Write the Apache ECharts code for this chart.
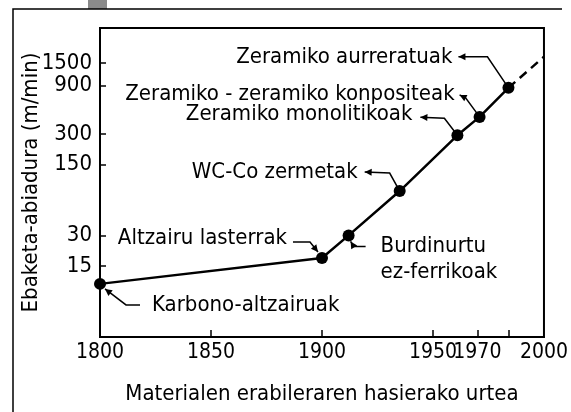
<!DOCTYPE html>
<html>
<head>
<meta charset="utf-8">
<script src="https://cdn.jsdelivr.net/npm/echarts@6/dist/echarts.min.js"></script>
<style>
  html, body { margin: 0; padding: 0; background: #fff; }
  #chart { width: 571px; height: 412px; }
</style>
</head>
<body>
<div id="chart"></div>
<script>
// data
const years = [1800, 1900, 1912, 1935, 1961, 1971, 1984];
const speeds = [10, 18, 30, 82, 290, 440, 850];
const extYears = [1984, 2000];
const extSpeeds = [850, 1720];
const names = [
  'Karbono-altzairuak',
  'Altzairu lasterrak',
  'Burdinurtu\nez-ferrikoak',
  'WC-Co zermetak',
  'Zeramiko monolitikoak',
  'Zeramiko - zeramiko konpositeak',
  'Zeramiko aurreratuak'
];
const yTicks = [15, 30, 150, 300, 900, 1500];
const xLabels = [1800, 1850, 1900, 1950, 1970, 2000];
const xTicks = [1850, 1900, 1950, 1970, 1984];

const FONT = '"Liberation Sans Narrow", "DejaVu Sans Condensed", sans-serif';
const FS = 22;

// label placement relative to each point: [dx, dy, align], leader path offsets (last = arrow tip)
const notes = [
  { text: [52, 21, 'left'], path: [[40, 21], [26, 21], [5, 5]] },
  { text: [-35, -20, 'right'], path: [[-29, -16], [-12, -16], [-4, -6]] },
  { text: [32, 24, 'left'], path: [[17, 11], [5, 11], [2, 6]] },
  { text: [-42, -19, 'right'], path: [[0, 0], [-10, -18], [-35, -19]] },
  { text: [-45, -21, 'right'], path: [[0, 0], [-13, -17], [-37, -18]] },
  { text: [-25, -23, 'right'], path: [[0, 0], [-14, -19], [-20, -22]] },
  { text: [-56, -31, 'right'], path: [[0, 0], [-21, -31], [-50, -31]] }
];

const chart = echarts.init(document.getElementById('chart'));

chart.setOption({
  animation: false,
  textStyle: { fontFamily: FONT },
  grid: {
    left: 100, right: 20, top: 28, bottom: 75,
    show: true, borderColor: '#000', borderWidth: 2
  },
  xAxis: {
    type: 'value',
    min: 1800, max: 2000,
    name: 'Materialen erabileraren hasierako urtea',
    nameLocation: 'middle',
    nameGap: 46,
    nameMoveOverlap: false,
    nameTextStyle: { fontSize: FS, color: '#000' },
    axisLine: { lineStyle: { color: '#000', width: 2 } },
    axisTick: { inside: true, length: 7, lineStyle: { color: '#000', width: 1.5 }, customValues: xTicks },
    axisLabel: { fontSize: 21, color: '#000', margin: 5, customValues: xLabels, formatter: v => String(v) },
    splitLine: { show: false }
  },
  yAxis: {
    type: 'log',
    min: 3, max: 3300,
    name: 'Ebaketa-abiadura (m/min)',
    nameLocation: 'middle',
    nameGap: 58,
    nameMoveOverlap: false,
    nameTextStyle: { fontSize: FS, color: '#000' },
    axisLine: { lineStyle: { color: '#000', width: 2 } },
    axisTick: { inside: true, length: 6, lineStyle: { color: '#000', width: 1.5 }, customValues: yTicks },
    axisLabel: { fontSize: FS, color: '#000', margin: 8, customValues: yTicks, formatter: v => String(v) },
    splitLine: { show: false }
  },
  series: [
    {
      type: 'line',
      data: years.map((y, i) => [y, speeds[i]]),
      symbol: 'circle',
      symbolSize: 12,
      itemStyle: { color: '#000' },
      lineStyle: { color: '#000', width: 2.5 },
      z: 3
    },
    {
      type: 'line',
      data: extYears.map((y, i) => [y, extSpeeds[i]]),
      showSymbol: false,
      lineStyle: { color: '#000', width: 2.5, type: [9, 6] },
      z: 2
    }
  ]
});

// annotations anchored to the plotted points
const gfx = [
  { type: 'rect', shape: { x: 88, y: 0, width: 19, height: 9 }, style: { fill: '#8a8a8a' } },
  { type: 'polyline', shape: { points: [[13, 412], [13, 9], [562, 9]] }, style: { stroke: '#000', lineWidth: 1.5, fill: null } }
];

years.forEach((yr, i) => {
  const p = chart.convertToPixel({ seriesIndex: 0 }, [yr, speeds[i]]);
  const n = notes[i];
  gfx.push({
    type: 'text',
    x: p[0] + n.text[0],
    y: p[1] + n.text[1],
    style: {
      text: names[i],
      font: FS + 'px ' + FONT,
      fill: '#000',
      align: n.text[2],
      verticalAlign: 'middle',
      lineHeight: 26
    }
  });
  const pts = n.path.map(d => [p[0] + d[0], p[1] + d[1]]);
  gfx.push({
    type: 'polyline',
    shape: { points: pts },
    style: { stroke: '#000', lineWidth: 1.5, fill: null }
  });
  const a = pts[pts.length - 2], b = pts[pts.length - 1];
  const ang = Math.atan2(b[1] - a[1], b[0] - a[0]);
  const L = 7, W = 3.5;
  const bx = b[0] - L * Math.cos(ang), by = b[1] - L * Math.sin(ang);
  gfx.push({
    type: 'polygon',
    shape: {
      points: [
        b,
        [bx + W * Math.sin(ang), by - W * Math.cos(ang)],
        [bx - W * Math.sin(ang), by + W * Math.cos(ang)]
      ]
    },
    style: { fill: '#000' }
  });
});

chart.setOption({ graphic: gfx });
</script>
</body>
</html>
